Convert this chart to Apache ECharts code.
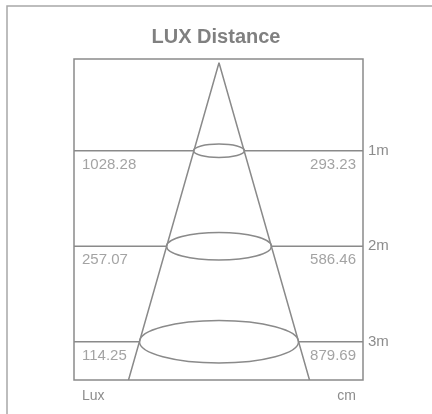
<!DOCTYPE html>
<html>
<head>
<meta charset="utf-8">
<script src="https://cdn.jsdelivr.net/npm/echarts@6/dist/echarts.min.js"></script>
<style>
html,body{margin:0;padding:0;background:#fff;}
#chart{width:432px;height:414px;}
</style>
</head>
<body>
<div id="chart"></div>
<script>
// ---- data ----
const titleText = 'LUX Distance';
const distanceLabels = ['1m', '2m', '3m'];
const levels = [1, 2, 3];                         // metres
const luxValues = ['1028.28', '257.07', '114.25'];
const cmValues = ['293.23', '586.46', '879.69'];
const beamHalfWidth = [25.5, 52.5, 79.5];         // x-units
const ellipseHalfHeight = [0.07, 0.145, 0.222];   // metres
const coneX = [-90.5, 0, 90.5];
const coneY = [3.4, 0.08, 3.4];
const xMin = -145, xMax = 144;
const yMin = 0.04, yMax = 3.4;

const lineColor = '#8a8a8a';
const textColor = '#8c8c8c';
const font = '"Liberation Sans", Arial, sans-serif';

const chart = echarts.init(document.getElementById('chart'), null, {renderer: 'canvas'});

const option = {
  animation: false,
  backgroundColor: '#fff',
  title: {
    text: titleText,
    left: 'center',
    top: 22,
    textStyle: {color: '#808080', fontSize: 20, fontWeight: 'bold', fontFamily: font}
  },
  graphic: [
    {type: 'rect', shape: {x: 7, y: 6, width: 600, height: 600},
     style: {fill: 'none', stroke: '#a8a8a8', lineWidth: 1.5}, silent: true},
    {type: 'text', left: 82, top: 389,
     style: {text: 'Lux', fill: textColor, font: '14px ' + font}},
    {type: 'text', right: 76, top: 389,
     style: {text: 'cm', fill: textColor, font: '14px ' + font}}
  ],
  grid: {
    left: 74, top: 59, width: 289, height: 321,
    show: true, borderColor: lineColor, borderWidth: 1.5, backgroundColor: 'transparent'
  },
  xAxis: {type: 'value', min: xMin, max: xMax, show: false},
  yAxis: {
    type: 'value', min: yMin, max: yMax, inverse: true, position: 'right',
    axisLine: {show: false}, axisTick: {show: false}, splitLine: {show: false},
    axisLabel: {
      customValues: levels,
      formatter: v => distanceLabels[levels.indexOf(v)] || '',
      margin: 5, color: textColor, fontSize: 15, fontFamily: font,
      verticalAlign: 'middle', padding: [0, 0, 3, 0]
    }
  },
  series: [
    {
      type: 'line',
      data: coneX.map((x, i) => [x, coneY[i]]),
      symbol: 'none',
      lineStyle: {color: lineColor, width: 1.5},
      silent: true
    },
    {
      type: 'custom',
      data: levels.map((l, i) => [l, beamHalfWidth[i], ellipseHalfHeight[i]]),
      renderItem: function (params, api) {
        const lvl = api.value(0), hw = api.value(1), hh = api.value(2);
        const c = api.coord([0, lvl]);
        const l = api.coord([xMin, lvl]);
        const r = api.coord([xMax, lvl]);
        const rx = api.size([hw, 0])[0];
        const ry = api.size([0, hh])[1];
        const st = {stroke: lineColor, lineWidth: 1.5, fill: 'none'};
        return {
          type: 'group',
          children: [
            {type: 'line', shape: {x1: l[0], y1: c[1], x2: c[0] - rx, y2: c[1]}, style: st},
            {type: 'line', shape: {x1: c[0] + rx, y1: c[1], x2: r[0], y2: c[1]}, style: st},
            {type: 'ellipse', shape: {cx: c[0], cy: c[1], rx: rx, ry: ry}, style: st}
          ]
        };
      },
      silent: true
    },
    {
      type: 'scatter',
      data: levels.map(l => [xMin, l]),
      symbolSize: 0,
      clip: false,
      silent: true,
      label: {
        show: true, position: [8, 14], align: 'left', verticalAlign: 'middle',
        formatter: p => luxValues[p.dataIndex],
        color: textColor, fontSize: 15, fontFamily: font
      }
    },
    {
      type: 'scatter',
      data: levels.map(l => [xMax, l]),
      symbolSize: 0,
      clip: false,
      silent: true,
      label: {
        show: true, position: [-7, 14], align: 'right', verticalAlign: 'middle',
        formatter: p => cmValues[p.dataIndex],
        color: textColor, fontSize: 15, fontFamily: font
      }
    }
  ]
};
chart.setOption(option);
</script>
</body>
</html>
